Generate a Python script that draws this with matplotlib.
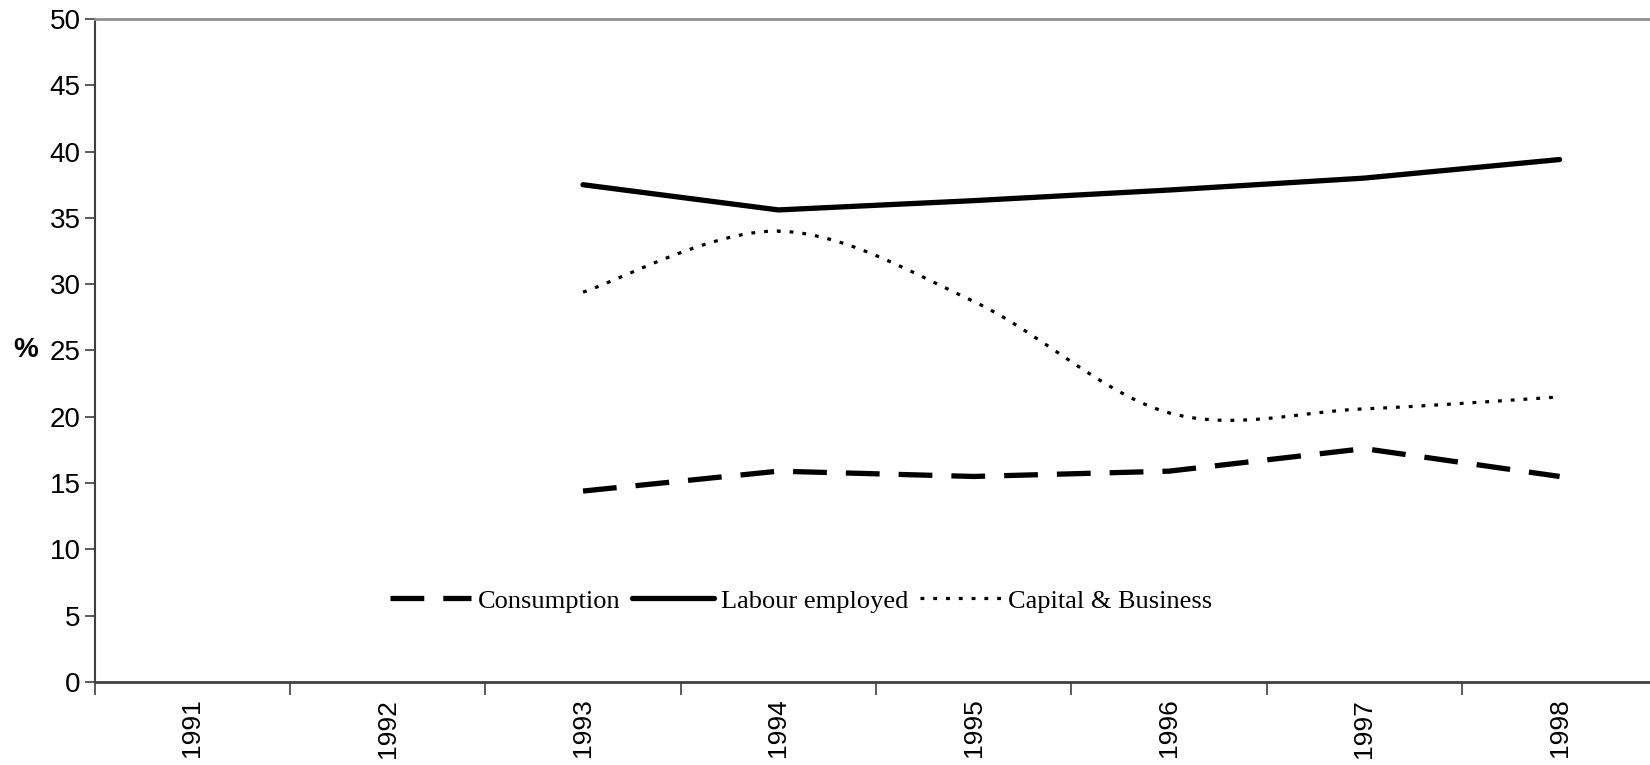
import numpy as np
import matplotlib
matplotlib.use("Agg")
import matplotlib.pyplot as plt

# data (% by year)
years = ["1991", "1992", "1993", "1994", "1995", "1996", "1997", "1998"]
data_years = ["1993", "1994", "1995", "1996", "1997", "1998"]
consumption = [14.4, 15.9, 15.5, 15.9, 17.6, 15.5]
labour = [37.5, 35.6, 36.3, 37.1, 38.0, 39.4]
capital = [29.4, 34.0, 28.7, 20.3, 20.6, 21.5]


def smooth(xs, ys, n=40):
    # excel style smoothed line (catmull-rom through the points)
    p = np.column_stack([xs, ys]).astype(float)
    p = np.vstack([p[0], p, p[-1]])
    out = []
    t = np.linspace(0, 1, n)[:, None]
    for i in range(1, len(p) - 2):
        p0, p1, p2, p3 = p[i - 1], p[i], p[i + 1], p[i + 2]
        seg = 0.5 * ((2 * p1) + (-p0 + p2) * t + (2 * p0 - 5 * p1 + 4 * p2 - p3) * t ** 2
                     + (-p0 + 3 * p1 - 3 * p2 + p3) * t ** 3)
        out.append(seg)
    out = np.vstack(out)
    return out[:, 0], out[:, 1]


sans = "Liberation Sans"
tick_size = 19

fig = plt.figure(figsize=(16.5, 7.65), dpi=100)
ax = fig.add_axes([0.0574, 0.1085, 0.947, 0.8667])

xpos = [years.index(y) for y in data_years]

ax.plot(xpos, consumption, color="black", lw=3.8, dashes=(6.4, 3.6),
        solid_capstyle="butt", label="Consumption")
ax.plot(xpos, labour, color="black", lw=3.8, solid_capstyle="round",
        label="Labour employed")
cx, cy = smooth(xpos, capital)
ax.plot(cx, cy, color="black", lw=2.3, dashes=(1.2, 2.8), label="Capital & Business")

ax.set_xlim(-0.5, len(years) - 0.5)
ax.set_ylim(0, 50)
ax.set_yticks(np.arange(0, 51, 5))
ax.tick_params(axis="y", length=7, width=1.2, color="#404040", labelsize=tick_size + 1, pad=3)

# category boundaries get the ticks, labels sit in the middle
ax.set_xticks(np.arange(-0.5, len(years)), labels=[""] * (len(years) + 1))
ax.tick_params(axis="x", which="major", length=9, width=1.2, color="#404040")
ax.set_xticks(range(len(years)), labels=years, minor=True)
ax.tick_params(axis="x", which="minor", length=0, labelsize=tick_size, labelrotation=90, pad=12)

for lab in ax.get_xticklabels(minor=True) + ax.get_yticklabels():
    lab.set_fontfamily(sans)

ax.spines["left"].set_color("#404040")
ax.spines["left"].set_linewidth(1.5)
ax.spines["bottom"].set_color("#404040")
ax.spines["bottom"].set_linewidth(2)
ax.spines["top"].set_color("#909090")
ax.spines["top"].set_linewidth(2)
ax.spines["right"].set_visible(False)

fig.text(26 / 1650, 1 - 350 / 765, "%", fontsize=tick_size + 1, fontweight="bold",
         family=sans, ha="center", va="center")

ax.legend(loc="center", bbox_to_anchor=(0.4855, 0.2144), bbox_transform=fig.transFigure,
          ncol=3, frameon=False, handlelength=3.1, handletextpad=0.25, columnspacing=0.45,
          prop={"family": "Liberation Serif", "size": 19})

fig.savefig("out.png", dpi=100)
